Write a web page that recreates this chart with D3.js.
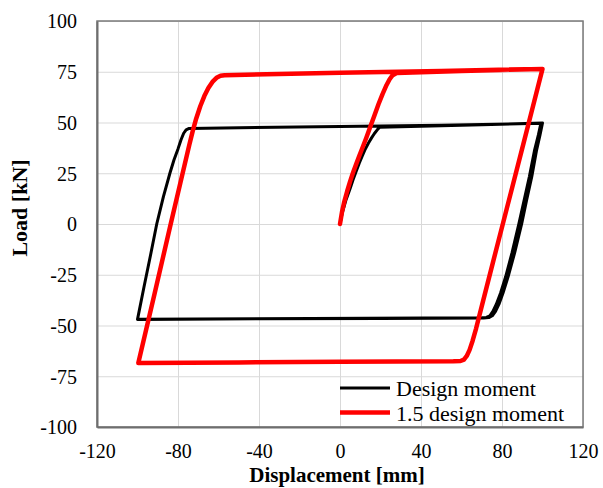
<!DOCTYPE html>
<html>
<head>
<meta charset="utf-8">
<script src="https://cdn.jsdelivr.net/npm/d3@7"></script>
<style>
  html, body { margin: 0; padding: 0; background: #fff; }
  svg { display: block; }
  text { font-family: "Liberation Serif", "Times New Roman", serif; fill: #000; }
</style>
</head>
<body>
<svg id="chart" width="603" height="488"></svg>
<script>
// Axis ticks
const xTicks = [-120, -80, -40, 0, 40, 80, 120];
const yTicks = [-100, -75, -50, -25, 0, 25, 50, 75, 100];

// Series names
const seriesNames = ["Design moment", "1.5 design moment"];

// Hysteresis, design moment: [displacement mm, load kN]
const designMoment = [
  [0, 0], [1, 5], [3, 12], [5, 17.5], [6.4, 21.7], [8, 26], [9.5, 30], [11, 33.5],
  [12.3, 36.5], [14, 39.8], [15.5, 42.3], [17, 44.6], [18.5, 46.5], [19.5, 47.6],
  [40, 48.1], [70, 48.9], [100, 49.8],
  [98.8, 44], [97, 36], [94.7, 23.3], [92.2, 12], [89.7, 0], [86.3, -14], [83, -26],
  [80.5, -34], [78.5, -39.5], [76.8, -43], [75.2, -45.2], [73.5, -46.1], [71, -46.3],
  [20, -46.5], [-40, -46.7], [-100, -47],
  [-96.8, -31], [-93.5, -15], [-90.5, 0], [-87.2, 13.5], [-84, 25], [-82, 31.5],
  [-80, 37], [-78.5, 41.5], [-77.2, 44.7], [-76, 46.4], [-74.5, 47.1],
  [0, 48], [50, 48.7], [99.2, 49.6],
  [98, 44], [96, 36], [93.5, 23.3], [91, 12], [88.3, 0], [85, -14], [81.8, -26],
  [79.3, -34], [77.2, -39.5], [75.5, -43], [74, -45.2], [72.3, -46], [70, -46.2],
  [-100, -46.9]
];

// Hysteresis, 1.5 x design moment: [displacement mm, load kN]
const designMoment15 = [
  [0, 0], [1, 6], [2, 10.5], [3.5, 16], [5, 21], [6.5, 25.5], [8, 29.5], [9.5, 33.5],
  [11, 37.3], [13, 42.5], [15, 48], [17, 53.5], [19, 59], [21, 64], [23, 68.5],
  [24.5, 71.3], [26, 73.3], [28, 74.4],
  [60, 75.4], [100, 76.4],
  [94.8, 56], [89.8, 36.5], [84.4, 15.5], [80.4, 0], [75.5, -19], [70.8, -37.4],
  [67.2, -51.5], [65.5, -57.5], [64, -62], [62.6, -65], [61.2, -66.8], [59.5, -67.5],
  [56, -67.6],
  [0, -67.9], [-50, -68.2], [-99.6, -68.5],
  [-91.6, -34.5], [-83.6, 0], [-78.9, 20], [-74.4, 39], [-72.8, 45.5], [-71, 52],
  [-69, 58], [-67, 63], [-65, 67], [-63, 70], [-61, 72], [-59, 73], [-57, 73.3],
  [0, 74.5], [50, 75.4], [100, 76.4]
];

const svg = d3.select("#chart");
const margin = { left: 97, top: 21, right: 20, bottom: 61 };
const W = 603, H = 488;
const pw = W - margin.left - margin.right;   // 486
const ph = H - margin.top - margin.bottom;   // 406

const x = d3.scaleLinear().domain([-120, 120]).range([0, pw]);
const y = d3.scaleLinear().domain([-100, 100]).range([ph, 0]);

// Plain hyphen for negative numbers
const fmt = d => String(d);

const g = svg.append("g").attr("transform", `translate(${margin.left},${margin.top})`);

// Gridlines
g.append("g")
  .call(d3.axisBottom(x).tickValues(xTicks).tickSize(ph).tickFormat(""))
  .call(s => s.select(".domain").remove())
  .call(s => s.selectAll("line").attr("stroke", "#d9d9d9").attr("stroke-width", 1));
g.append("g")
  .call(d3.axisLeft(y).tickValues(yTicks).tickSize(-pw).tickFormat(""))
  .call(s => s.select(".domain").remove())
  .call(s => s.selectAll("line").attr("stroke", "#d9d9d9").attr("stroke-width", 1));

// Plot frame
g.append("rect")
  .attr("x", 0).attr("y", 0).attr("width", pw).attr("height", ph)
  .attr("fill", "none").attr("stroke", "#7a7a7a").attr("stroke-width", 1.5);

// Tick labels
const xAxis = g.append("g").attr("transform", `translate(0,${ph})`)
  .call(d3.axisBottom(x).tickValues(xTicks).tickSize(0).tickPadding(0).tickFormat(fmt));
xAxis.select(".domain").attr("stroke", "#6e6e6e").attr("stroke-width", 2);
xAxis.selectAll("text")
  .attr("y", 31).attr("dy", 0)
  .style("font-size", "20px")
  .style("font-family", "'Liberation Serif', 'Times New Roman', serif")
  .attr("fill", "#000");

const yAxis = g.append("g")
  .call(d3.axisLeft(y).tickValues(yTicks).tickSize(0).tickPadding(20).tickFormat(fmt));
yAxis.select(".domain").attr("stroke", "#6e6e6e").attr("stroke-width", 2);
yAxis.selectAll("text")
  .attr("dy", "0.34em")
  .style("font-size", "20px")
  .style("font-family", "'Liberation Serif', 'Times New Roman', serif")
  .attr("fill", "#000");

// Curves
const line = d3.line().x(d => x(d[0])).y(d => y(d[1])).curve(d3.curveLinear);
g.append("path").datum(designMoment)
  .attr("d", line).attr("fill", "none")
  .attr("stroke", "#000").attr("stroke-width", 3)
  .attr("stroke-linejoin", "round").attr("stroke-linecap", "round");
g.append("path").datum(designMoment15)
  .attr("d", line).attr("fill", "none")
  .attr("stroke", "#ff0000").attr("stroke-width", 4.5)
  .attr("stroke-linejoin", "round").attr("stroke-linecap", "round");

// Legend
const legendItems = [
  { name: seriesNames[0], color: "#000", width: 3 },
  { name: seriesNames[1], color: "#ff0000", width: 4.5 }
];
const lg = g.append("g").attr("transform", `translate(${x(0)},${367})`);
legendItems.forEach((item, i) => {
  const row = lg.append("g").attr("transform", `translate(0,${i * 24.5})`);
  row.append("line")
    .attr("x1", 0).attr("x2", 50).attr("y1", 0).attr("y2", 0)
    .attr("stroke", item.color).attr("stroke-width", item.width);
  row.append("text")
    .attr("x", 56).attr("y", 8)
    .style("font-size", "22px")
    .text(item.name);
});

// Axis titles
svg.append("text")
  .attr("x", margin.left + pw / 2 - 3).attr("y", 482)
  .attr("text-anchor", "middle")
  .style("font-size", "21px").style("font-weight", "bold")
  .text("Displacement [mm]");
svg.append("text")
  .attr("transform", `translate(27,208) rotate(-90)`)
  .attr("text-anchor", "middle")
  .style("font-size", "22px").style("font-weight", "bold")
  .text("Load [kN]");
</script>
</body>
</html>
